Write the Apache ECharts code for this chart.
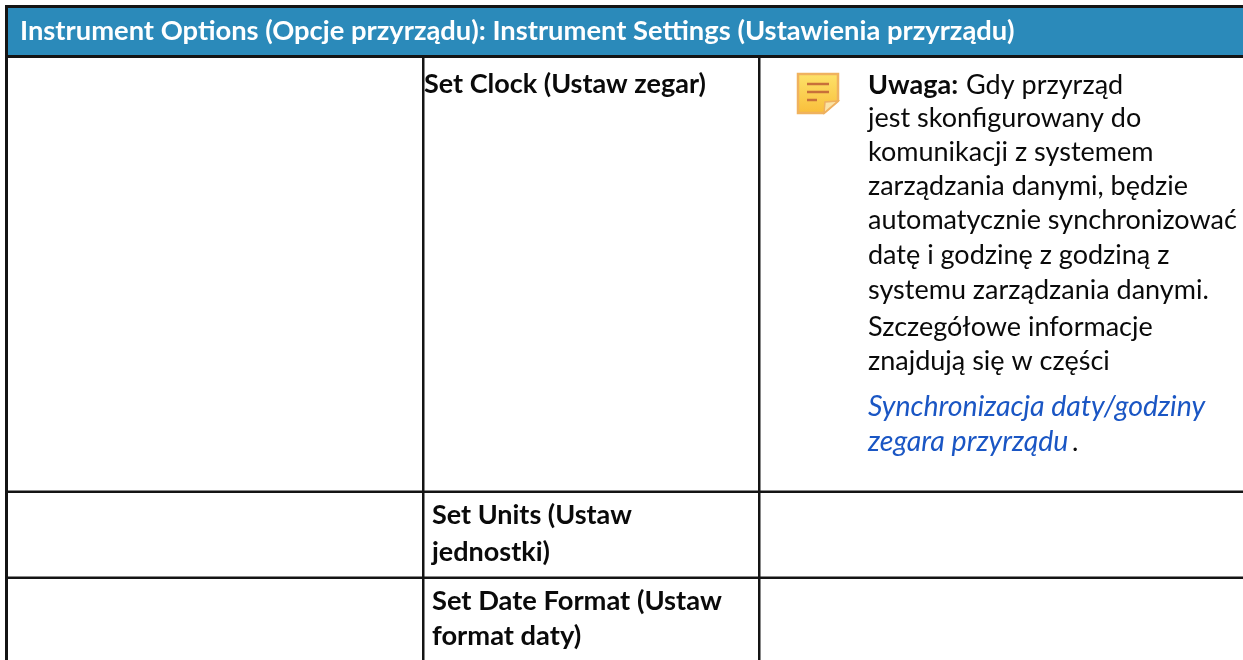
<!DOCTYPE html>
<html><head><meta charset="utf-8">
<style>html,body{margin:0;padding:0;background:#fff}#c{width:1243px;height:660px}</style>
<script src="https://cdn.jsdelivr.net/npm/echarts@6/dist/echarts.min.js"></script>
</head><body><div id="c"></div>
<script>
const headerTitle = 'Instrument Options (Opcje przyrządu): Instrument Settings (Ustawienia przyrządu)';
const setClock = ['Set Clock (Ustaw zegar)'];
const setUnits = ['Set Units (Ustaw', 'jednostki)'];
const setDate = ['Set Date Format (Ustaw', 'format daty)'];
const noteLead = 'Uwaga:';
const noteFirst = 'Gdy przyrząd';
const noteBody = ['jest skonfigurowany do','komunikacji z systemem','zarządzania danymi, będzie','automatycznie synchronizować','datę i godzinę z godziną z','systemu zarządzania danymi.','Szczegółowe informacje','znajdują się w części'];
const noteLink = ['Synchronizacja daty/godziny','zegara przyrządu'];
const linkEnd = '.';

const FONT = 'Lato, "Noto Sans", sans-serif', SIZE = 27, INK = '#0a0a0a', LINE = '#141414';
const g = [];
const rect = (x,y,w,h,fill) => g.push({type:'rect',shape:{x,y,width:w,height:h},style:{fill}});
const text = (x,y,t,o={}) => g.push({type:'text',x,y,style:{text:t,font:`${o.style||'normal'} ${o.weight||'normal'} ${o.size||SIZE}px ${FONT}`,fill:o.fill||INK,textVerticalAlign:'middle',textAlign:'left'}});

rect(0,0,1243,660,'#fff');
rect(7,8,1236,48,'#2b8aba');
rect(5,5,1238,3,LINE);
rect(5,55,1238,3,LINE);
rect(5,5,3,655,LINE);
rect(422,57,2.5,603,LINE);
rect(758,57,2.5,603,LINE);
rect(7,490.5,1236,2.5,LINE);
rect(7,576.5,1236,2.5,LINE);

text(20,31,headerTitle,{weight:'bold',fill:'#fff',size:27.35});
text(424,84,setClock[0],{weight:'bold'});
setUnits.forEach((t,i)=>text(432,[515,552][i],t,{weight:'bold'}));
setDate.forEach((t,i)=>text(432,[601,636][i],t,{weight:'bold',size:27.3}));
text(868,85,noteLead,{weight:'bold'});
text(966,85,noteFirst);
const bodyY=[118,152,186,220,255,290,327,361];
noteBody.forEach((t,i)=>text(868,bodyY[i],t));
noteLink.forEach((t,i)=>text(868,[407,442][i],t,{style:'italic',fill:'#1a56c4',size:28.5}));
text(1072,442,linkEnd);

// note icon
g.push({type:'polygon',shape:{points:[[798,74],[838,74],[838,101],[824,113],[798,113]]},
  style:{fill:new echarts.graphic.LinearGradient(0,0,0,1,[{offset:0,color:'#fde36a'},{offset:1,color:'#f9bd3a'}]),stroke:'#f0b25e',lineWidth:2.5}});
g.push({type:'polygon',shape:{points:[[824,113],[825,102],[838,101]]},style:{fill:'#fbe3a6',stroke:'#eeb060',lineWidth:1.5}});
[[807,829,84],[807,829,92],[807,817,100]].forEach(([a,b,y])=>g.push({type:'line',shape:{x1:a,y1:y,x2:b,y2:y},style:{stroke:'#c8703a',lineWidth:2.5}}));

const chart = echarts.init(document.getElementById('c'),null,{renderer:'canvas'});
chart.setOption({animation:false,backgroundColor:'#fff',graphic:{elements:g}});
</script></body></html>
